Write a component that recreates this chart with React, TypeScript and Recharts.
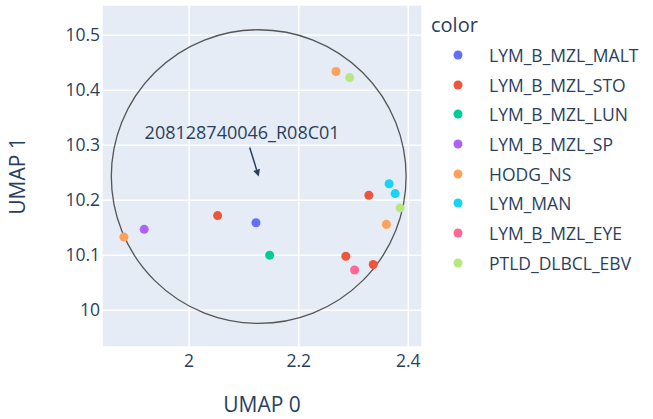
import {
  ScatterChart,
  Scatter,
  XAxis,
  YAxis,
  ZAxis,
  CartesianGrid,
  Legend,
  ReferenceArea,
  ReferenceDot,
} from 'recharts';

const categories = [
  'LYM_B_MZL_MALT',
  'LYM_B_MZL_STO',
  'LYM_B_MZL_LUN',
  'LYM_B_MZL_SP',
  'HODG_NS',
  'LYM_MAN',
  'LYM_B_MZL_EYE',
  'PTLD_DLBCL_EBV',
];
const colors = ['#636efa', '#EF553B', '#00cc96', '#ab63fa', '#FFA15A', '#19d3f3', '#FF6692', '#B6E880'];

// one entry per sample
const umap0 = [2.268, 2.293, 2.365, 2.376, 2.328, 2.385, 2.36, 2.052, 2.122, 1.918, 1.881, 2.147, 2.286, 2.302, 2.336];
const umap1 = [10.434, 10.423, 10.23, 10.212, 10.209, 10.186, 10.156, 10.172, 10.159, 10.147, 10.133, 10.1, 10.098, 10.073, 10.083];
const group = [
  'HODG_NS', 'PTLD_DLBCL_EBV', 'LYM_MAN', 'LYM_MAN', 'LYM_B_MZL_STO', 'PTLD_DLBCL_EBV', 'HODG_NS',
  'LYM_B_MZL_STO', 'LYM_B_MZL_MALT', 'LYM_B_MZL_SP', 'HODG_NS', 'LYM_B_MZL_LUN', 'LYM_B_MZL_STO',
  'LYM_B_MZL_EYE', 'LYM_B_MZL_STO',
];

const xTicks = [2, 2.2, 2.4];
const yTicks = [10, 10.1, 10.2, 10.3, 10.4, 10.5];

// highlighted sample + circle around it
const focus = { label: '208128740046_R08C01', x: 2.127, y: 10.243 };
const ring = { x0: 1.858, x1: 2.396, y0: 9.976, y1: 10.51 };

const FONT = '"Open Sans", verdana, arial, sans-serif';
const INK = '#2a3f5f';

const series = categories.map((name, i) => ({
  name,
  color: colors[i],
  data: umap0
    .map((x, j) => ({ x, y: umap1[j], g: group[j] }))
    .filter(p => p.g === name),
}));

function LegendBox() {
  // keep the trace order (recharts would sort the payload by name)
  return (
    <div style={{ fontFamily: FONT, color: INK }}>
      <div style={{ fontSize: 20, lineHeight: '26px', marginBottom: 2 }}>color</div>
      {series.map(s => (
        <div key={s.name} style={{ display: 'flex', alignItems: 'center', height: 29.7, fontSize: 17.5 }}>
          <svg width={40} height={12} style={{ marginLeft: 14, marginRight: 4 }}>
            <circle cx={13} cy={6} r={4.5} fill={s.color} />
          </svg>
          <span>{s.name}</span>
        </div>
      ))}
    </div>
  );
}

function Annotation({ cx, cy }: any) {
  if (cx == null || cy == null) return null;
  const tx = cx - 9;
  const ty = cy - 29;
  const ang = Math.atan2(cy - ty, cx - tx);
  const hw = 3.5;
  const hl = 7;
  const bx = cx - hl * Math.cos(ang);
  const by = cy - hl * Math.sin(ang);
  return (
    <g>
      <line x1={tx} y1={ty} x2={bx} y2={by} stroke={INK} strokeWidth={1.5} />
      <polygon
        points={`${cx},${cy} ${bx - hw * Math.sin(ang)},${by + hw * Math.cos(ang)} ${bx + hw * Math.sin(ang)},${by - hw * Math.cos(ang)}`}
        fill={INK}
      />
      <text x={cx - 16.6} y={cy - 38} textAnchor="middle" fontFamily={FONT} fontSize={18} fill={INK}>
        {focus.label}
      </text>
    </g>
  );
}

function Ring(props: any) {
  const { x, y, width, height } = props;
  return (
    <ellipse
      cx={x + width / 2}
      cy={y + height / 2}
      rx={Math.abs(width) / 2}
      ry={Math.abs(height) / 2}
      fill="none"
      stroke="#555"
      strokeWidth={1.3}
    />
  );
}

export default function App() {
  const tick = { fill: INK, fontSize: 17.5, fontFamily: FONT };
  return (
    <div style={{ position: 'absolute', left: 0, top: 0, background: '#fff' }}>
      <ScatterChart width={653} height={419} margin={{ top: 5, right: 231, bottom: 0, left: 0 }}>
        <CartesianGrid fill="#E5ECF6" stroke="#fff" strokeWidth={1.5} fillOpacity={1} />
        <XAxis
          type="number"
          dataKey="x"
          domain={[1.841, 2.425]}
          ticks={xTicks}
          allowDataOverflow
          axisLine={false}
          tickLine={false}
          tickSize={0}
          tickMargin={8}
          height={72}
          tick={tick}
          label={{ value: 'UMAP 0', position: 'insideBottom', offset: 7, fill: INK, fontSize: 21, fontFamily: FONT }}
        />
        <YAxis
          type="number"
          dataKey="y"
          domain={[9.933, 10.555]}
          ticks={yTicks}
          allowDataOverflow
          axisLine={false}
          tickLine={false}
          tickSize={0}
          tickMargin={2}
          width={102}
          tick={tick}
          label={({ viewBox }: any) => {
            const lx = viewBox.x + 25;
            const ly = viewBox.y + viewBox.height / 2;
            return (
              <text
                x={lx}
                y={ly}
                transform={`rotate(-90, ${lx}, ${ly})`}
                textAnchor="middle"
                fill={INK}
                fontSize={21}
                fontFamily={FONT}
              >
                UMAP 1
              </text>
            );
          }}
        />
        <ZAxis range={[64, 64]} />
        {/* center/middle so the legend does not eat into the plot area */}
        <Legend
          layout="vertical"
          verticalAlign="middle"
          align="center"
          content={<LegendBox />}
          wrapperStyle={{ left: 431, top: 12, width: 222 }}
        />
        {series.map(s => (
          <Scatter key={s.name} name={s.name} data={s.data} fill={s.color} isAnimationActive={false} />
        ))}
        <ReferenceArea x1={ring.x0} x2={ring.x1} y1={ring.y0} y2={ring.y1} shape={<Ring />} ifOverflow="visible" />
        <ReferenceDot x={focus.x} y={focus.y} r={0} shape={<Annotation />} ifOverflow="visible" />
      </ScatterChart>
    </div>
  );
}
